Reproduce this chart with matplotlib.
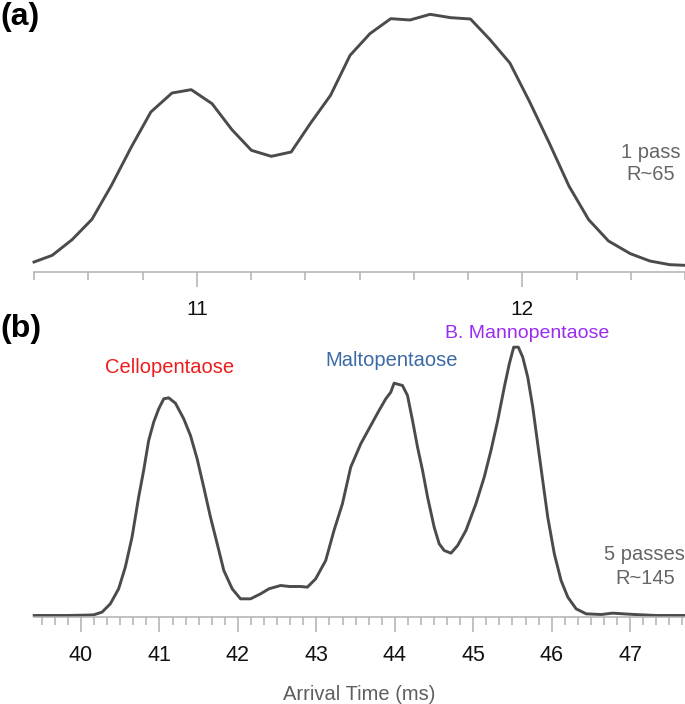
import numpy as np
import matplotlib
matplotlib.use("Agg")
import matplotlib.pyplot as plt
from matplotlib.ticker import MultipleLocator, FixedLocator

plt.rcParams['font.family'] = ['Liberation Sans', 'DejaVu Sans']

# ---- data (a): 1 pass ----
time_a = [10.500, 10.556, 10.617, 10.678, 10.738, 10.799, 10.859, 10.924, 10.983,
          11.047, 11.108, 11.168, 11.229, 11.290, 11.350, 11.411, 11.471, 11.532,
          11.596, 11.655, 11.717, 11.780, 11.841, 11.901, 11.962, 12.023, 12.083,
          12.144, 12.204, 12.265, 12.332, 12.392, 12.453, 12.500]
inten_a = [30, 50, 97, 158, 260, 375, 480, 537, 547, 505, 427, 365, 347, 360, 447,
           530, 650, 715, 760, 756, 773, 763, 759, 697, 627, 510, 387, 257, 157, 93,
           55, 33, 22, 20]

# ---- data (b): 5 passes ----
time_b = [39.403, 39.805, 40.050, 40.160, 40.267, 40.373, 40.479, 40.564, 40.650,
          40.734, 40.798, 40.862, 40.926, 40.990, 41.054, 41.117, 41.203, 41.309,
          41.395, 41.480, 41.564, 41.650, 41.736, 41.820, 41.927, 42.033, 42.161,
          42.289, 42.395, 42.544, 42.660, 42.800, 42.885, 42.991, 43.119, 43.225,
          43.332, 43.438, 43.566, 43.694, 43.799, 43.885, 43.949, 43.991, 44.098,
          44.162, 44.226, 44.290, 44.354, 44.418, 44.502, 44.566, 44.630, 44.716,
          44.801, 44.907, 45.034, 45.140, 45.226, 45.312, 45.396, 45.460, 45.516,
          45.575, 45.631, 45.695, 45.759, 45.822, 45.886, 45.950, 46.034, 46.120,
          46.206, 46.312, 46.440, 46.632, 46.776, 47.055, 47.334, 47.697]
inten_b = [3, 3, 4, 5, 13, 38, 83, 148, 238,
           358, 438, 528, 583, 623, 653, 656, 640, 593,
           543, 473, 388, 298, 218, 138, 83, 53, 53,
           68, 83, 93, 90, 90, 88, 113, 168, 258,
           338, 448, 518, 573, 618, 653, 673, 700, 693,
           663, 588, 508, 438, 358, 268, 218, 198, 190,
           213, 258, 338, 418, 498, 588, 688, 758, 808,
           808, 778, 718, 628, 518, 408, 298, 188, 108,
           58, 23, 8, 6, 10, 6, 3, 3]

labels_b = ["Cellopentaose", "Maltopentaose", "B. Mannopentaose"]
label_colors = ["#ee1c1c", "#3c6aa6", "#9a2cf2"]

W, H = 685, 704
fig = plt.figure(figsize=(W / 100, H / 100), dpi=100)

def fx(px):
    return px / W

def fy(py):
    return 1 - py / H

line_col = "#4b4b4b"
spine_col = "#b0b0b0"

def style(ax, labelsize, pad):
    for s in ["top", "left", "right"]:
        ax.spines[s].set_visible(False)
    ax.spines["bottom"].set_color(spine_col)
    ax.spines["bottom"].set_linewidth(1.1)
    ax.set_yticks([])
    ax.tick_params(axis="x", which="major", direction="out", length=10.8,
                   width=1.1, color=spine_col, labelsize=labelsize, labelcolor="#111111",
                   pad=pad)
    ax.tick_params(axis="x", which="minor", direction="out", length=5.6,
                   width=1.1, color=spine_col)
    ax.patch.set_visible(False)

# panel (a)
ax_a = fig.add_axes([fx(34), fy(272), fx(651), (272 - 5) / H])
ax_a.plot(time_a, inten_a, color=line_col, lw=2.1, clip_on=False, solid_joinstyle="round")
ax_a.set_xlim(10.5, 12.5)
ax_a.set_ylim(0, 801)
ax_a.xaxis.set_major_locator(FixedLocator([11, 12]))
ax_a.xaxis.set_minor_locator(MultipleLocator(1 / 6))
style(ax_a, 15, 9.5)

# panel (b)
ax_b = fig.add_axes([fx(34), fy(616.5), fx(651), (616.5 - 330) / H])
ax_b.plot(time_b, inten_b, color=line_col, lw=2.1, clip_on=False, solid_joinstyle="round")
ax_b.set_xlim(39.4, 47.7)
ax_b.set_ylim(0, 859.5)
ax_b.xaxis.set_major_locator(MultipleLocator(1))
ax_b.xaxis.set_minor_locator(MultipleLocator(1 / 6))
style(ax_b, 15.5, 10.0)

fig.text(fx(359), fy(694), "Arrival Time (ms)", ha="center", va="center",
         fontsize=14.5, color="#5e5e5e")

# panel letters
fig.text(fx(0), fy(17), "(a)", ha="left", va="center", fontsize=23, fontweight="bold")
fig.text(fx(0), fy(329), "(b)", ha="left", va="center", fontsize=23, fontweight="bold")

# side annotations
fig.text(fx(651), fy(152), "1 pass", ha="center", va="center", fontsize=14.5, color="#666666")
fig.text(fx(651), fy(175), "R~65", ha="center", va="center", fontsize=14.5, color="#666666")
fig.text(fx(644), fy(555), "5 passes", ha="center", va="center", fontsize=14.5, color="#666666")
fig.text(fx(645), fy(578), "R~145", ha="center", va="center", fontsize=14.5, color="#666666")

# peak labels
label_pos = [(170, 367), (392, 361), (527, 333)]
label_sizes = [14.5, 14.5, 14]
for (x, y), t, c, s in zip(label_pos, labels_b, label_colors, label_sizes):
    fig.text(fx(x), fy(y), t, ha="center", va="center", fontsize=s, color=c)

fig.savefig("out.png", dpi=100)
